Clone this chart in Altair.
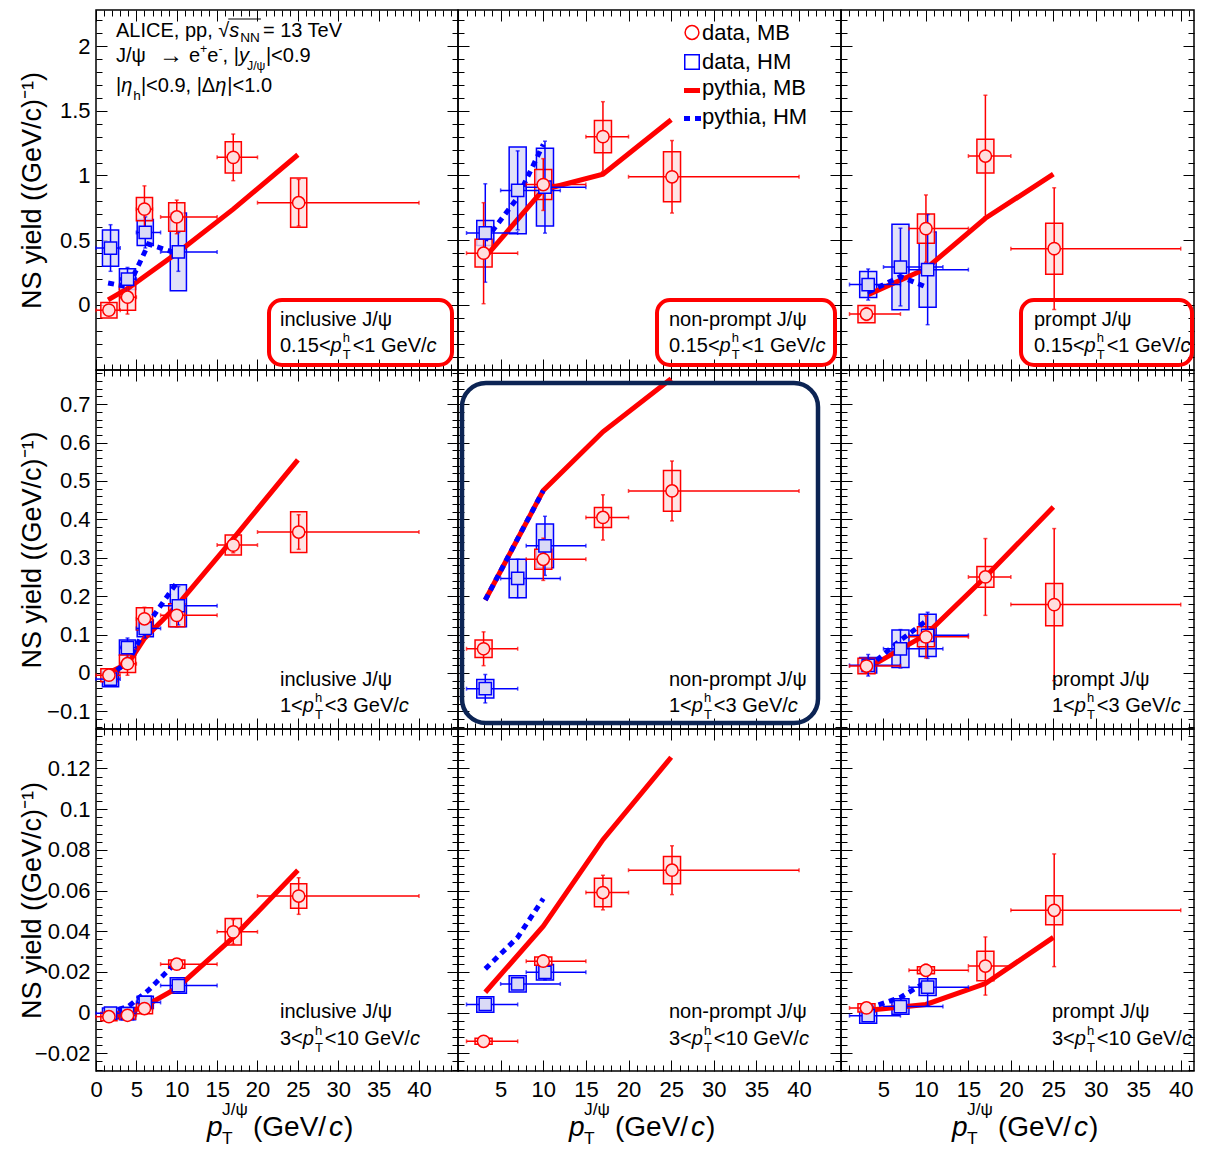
import altair as alt
import pandas as pd

FONT = "Liberation Sans"
RED, BLUE = "#ff0000", "#0000ff"
RED_FILL, BLUE_FILL = "#ffdede", "#dadaf6"
NAVY = "#0c2454"

# ---------------- data ----------------
INCL_MB_X = [1.6, 3.9, 6.0, 10.0, 17.0, 25.1]
INCL_MB_XLO = [0, 3, 5, 8, 15, 20]
INCL_MB_XHI = [3, 5, 7, 15, 20, 40]
INCL_HM_X = [1.8, 3.9, 6.1, 10.2]
INCL_HM_XLO = [0, 3, 5, 8]
INCL_HM_XHI = [3, 5, 8, 15]
SEP_MB_X = [3.0, 10.0, 17.0, 25.1]
SEP_MB_XLO = [1, 8, 15, 20]
SEP_MB_XHI = [7, 15, 20, 40]
SEP_HM_X = [3.2, 7.0, 10.2]
SEP_HM_XLO = [1, 5, 8]
SEP_HM_XHI = [7, 12, 15]
INCL_PY_MB_X = [1.5, 4, 6, 10, 17, 25]
INCL_PY_HM_X = [1.5, 4, 6.5, 10]
SEP_PY_MB_X = [3.2, 10, 17, 25]
SEP_PY_HM_X = [3.2, 7, 10]

# inclusive, 0.15<pTh<1
IL_MB_Y = [-0.04, 0.06, 0.74, 0.68, 1.14, 0.79]
IL_MB_STAT = [0.04, 0.13, 0.18, 0.13, 0.18, 0.18]
IL_MB_SYS = [0.06, 0.10, 0.09, 0.11, 0.12, 0.19]
IL_HM_Y = [0.44, 0.20, 0.56, 0.41]
IL_HM_STAT = [0.18, 0.09, 0.12, 0.15]
IL_HM_SYS = [0.14, 0.08, 0.10, 0.30]
IL_PY_MB = [0.04, 0.13, 0.22, 0.40, 0.74, 1.16]
IL_PY_HM = [0.17, 0.14, 0.47, 0.40]
# inclusive, 1<pTh<3
IM_MB_Y = [-0.006, 0.024, 0.141, 0.150, 0.333, 0.367]
IM_MB_STAT = [0.012, 0.03, 0.03, 0.03, 0.02, 0.045]
IM_MB_SYS = [0.017, 0.023, 0.029, 0.03, 0.026, 0.053]
IM_HM_Y = [-0.016, 0.066, 0.116, 0.175]
IM_HM_STAT = [0.015, 0.025, 0.025, 0.05]
IM_HM_SYS = [0.02, 0.02, 0.022, 0.055]
IM_PY_MB = [0.0, 0.025, 0.09, 0.175, 0.35, 0.555]
IM_PY_HM = [-0.01, 0.03, 0.13, 0.235]
# inclusive, 3<pTh<10
IH_MB_Y = [-0.002, -0.0013, 0.002, 0.0238, 0.0397, 0.0573]
IH_MB_STAT = [0.002, 0.002, 0.002, 0.002, 0.006, 0.009]
IH_MB_SYS = [0.002, 0.002, 0.0025, 0.002, 0.0065, 0.006]
IH_HM_Y = [-0.0003, -0.0005, 0.005, 0.0133]
IH_HM_STAT = [0.002, 0.002, 0.002, 0.003]
IH_HM_SYS = [0.0026, 0.003, 0.003, 0.0038]
IH_PY_MB = [-0.001, 0.0, 0.003, 0.012, 0.037, 0.070]
IH_PY_HM = [0.0, 0.003, 0.011, 0.025]
# non-prompt
NL_MB_Y = [0.40, 0.93, 1.30, 0.99]
NL_MB_STAT = [0.39, 0.20, 0.27, 0.28]
NL_MB_SYS = [0.107, 0.116, 0.125, 0.193]
NL_HM_Y = [0.556, 0.885, 0.91]
NL_HM_STAT = [0.38, 0.305, 0.355]
NL_HM_SYS = [0.097, 0.335, 0.30]
NL_PY_MB = [0.37, 0.89, 1.01, 1.43]
NL_PY_HM = [0.50, 0.83, 1.24]
NM_MB_Y = [0.063, 0.296, 0.405, 0.474]
NM_MB_STAT = [0.044, 0.055, 0.059, 0.078]
NM_MB_SYS = [0.023, 0.026, 0.026, 0.053]
NM_HM_Y = [-0.041, 0.246, 0.331]
NM_HM_STAT = [0.037, 0.05, 0.077]
NM_HM_SYS = [0.024, 0.05, 0.057]
NM_PY_MB = [0.19, 0.475, 0.628, 0.766]
NM_PY_HM = [0.19, 0.35, 0.475]
NH_MB_Y = [-0.0141, 0.0253, 0.059, 0.070]
NH_MB_STAT = [0.0015, 0.003, 0.0085, 0.012]
NH_MB_SYS = [0.0015, 0.002, 0.007, 0.0067]
NH_HM_Y = [0.004, 0.0141, 0.0198]
NH_HM_STAT = [0.002, 0.002, 0.0037]
NH_HM_SYS = [0.0038, 0.004, 0.0038]
NH_PY_MB = [0.010, 0.0425, 0.085, 0.1255]
NH_PY_HM = [0.0215, 0.037, 0.056]
# prompt
PL_MB_Y = [-0.07, 0.59, 1.15, 0.435]
PL_MB_STAT = [0.05, 0.26, 0.47, 0.47]
PL_MB_SYS = [0.067, 0.113, 0.13, 0.197]
PL_HM_Y = [0.158, 0.293, 0.273]
PL_HM_STAT = [0.12, 0.30, 0.425]
PL_HM_SYS = [0.10, 0.33, 0.29]
PL_PY_MB = [0.08, 0.28, 0.67, 1.01]
PL_PY_HM = [0.10, 0.22, 0.14]
PM_MB_Y = [0.018, 0.094, 0.25, 0.178]
PM_MB_STAT = [0.015, 0.055, 0.10, 0.198]
PM_MB_SYS = [0.02, 0.026, 0.027, 0.055]
PM_HM_Y = [0.02, 0.063, 0.098]
PM_HM_STAT = [0.028, 0.05, 0.06]
PM_HM_SYS = [0.02, 0.049, 0.055]
PM_PY_MB = [0.013, 0.10, 0.25, 0.432]
PM_PY_HM = [0.015, 0.085, 0.135]
PH_MB_Y = [0.0023, 0.0208, 0.0229, 0.0503]
PH_MB_STAT = [0.002, 0.003, 0.0143, 0.0277]
PH_MB_SYS = [0.002, 0.0017, 0.0072, 0.0071]
PH_HM_Y = [-0.0015, 0.003, 0.0125]
PH_HM_STAT = [0.002, 0.002, 0.009]
PH_HM_SYS = [0.0037, 0.0038, 0.0041]
PH_PY_MB = [0.0012, 0.004, 0.0143, 0.037]
PH_PY_HM = [0.002, 0.0075, 0.015]

SPECIES = ["inclusive J/\u03c8", "non-prompt J/\u03c8", "prompt J/\u03c8"]
PTH_LO = ["0.15", "1", "3"]
PTH_HI = ["1", "3", "10"]
Y_TITLE = "NS yield ((GeV/c)\u207b\u00b9)"

PANELS = {
    (0, 0): (IL_MB_Y, IL_MB_STAT, IL_MB_SYS, IL_HM_Y, IL_HM_STAT, IL_HM_SYS, IL_PY_MB, IL_PY_HM),
    (1, 0): (IM_MB_Y, IM_MB_STAT, IM_MB_SYS, IM_HM_Y, IM_HM_STAT, IM_HM_SYS, IM_PY_MB, IM_PY_HM),
    (2, 0): (IH_MB_Y, IH_MB_STAT, IH_MB_SYS, IH_HM_Y, IH_HM_STAT, IH_HM_SYS, IH_PY_MB, IH_PY_HM),
    (0, 1): (NL_MB_Y, NL_MB_STAT, NL_MB_SYS, NL_HM_Y, NL_HM_STAT, NL_HM_SYS, NL_PY_MB, NL_PY_HM),
    (1, 1): (NM_MB_Y, NM_MB_STAT, NM_MB_SYS, NM_HM_Y, NM_HM_STAT, NM_HM_SYS, NM_PY_MB, NM_PY_HM),
    (2, 1): (NH_MB_Y, NH_MB_STAT, NH_MB_SYS, NH_HM_Y, NH_HM_STAT, NH_HM_SYS, NH_PY_MB, NH_PY_HM),
    (0, 2): (PL_MB_Y, PL_MB_STAT, PL_MB_SYS, PL_HM_Y, PL_HM_STAT, PL_HM_SYS, PL_PY_MB, PL_PY_HM),
    (1, 2): (PM_MB_Y, PM_MB_STAT, PM_MB_SYS, PM_HM_Y, PM_HM_STAT, PM_HM_SYS, PM_PY_MB, PM_PY_HM),
    (2, 2): (PH_MB_Y, PH_MB_STAT, PH_MB_SYS, PH_HM_Y, PH_HM_STAT, PH_HM_SYS, PH_PY_MB, PH_PY_HM),
}

# ---------------- layout / style ----------------
COL_W = [362, 383, 353]
ROW_H = [360, 359, 342]
XDOM = [(0, 44.83), (0, 44.92), (0, 41.56)]
YDOM = [(-0.502, 2.278), (-0.146, 0.789), (-0.0287, 0.1394)]
Y_MAJOR = [[0, 0.5, 1, 1.5, 2],
           [-0.1, 0, 0.1, 0.2, 0.3, 0.4, 0.5, 0.6, 0.7],
           [-0.02, 0, 0.02, 0.04, 0.06, 0.08, 0.1, 0.12]]
Y_TICK_MAJOR = [[-0.5, 0, 0.5, 1, 1.5, 2], Y_MAJOR[1], Y_MAJOR[2]]
Y_MINOR_STEP = [0.1, 0.02, 0.004]
X_MAJOR = [0, 5, 10, 15, 20, 25, 30, 35, 40]
BOX_HW = 1.0
MAJ, MIN = 11, 6

AW = {' ': .278, '(': .333, ')': .333, '+': .584, ',': .278, '-': .333, '.': .278, '/': .278,
      '<': .584, '=': .584, '|': .26, 'A': .667, 'B': .667, 'C': .722, 'E': .667, 'G': .778,
      'H': .722, 'I': .278, 'J': .5, 'L': .556, 'M': .833, 'N': .722, 'T': .611, 'V': .667,
      'a': .556, 'c': .5, 'd': .556, 'e': .556, 'h': .556, 'i': .222, 'l': .222, 'm': .833,
      'n': .556, 'o': .556, 'p': .556, 'r': .333, 's': .5, 't': .278, 'u': .556, 'v': .5,
      'y': .5, '\u03c8': .75, '\u03b7': .556, '\u0394': .668, '\u2192': .84, '\u221a': .55}


def tw(s, fs):
    return sum(AW.get(ch, 0.556) for ch in s) * fs


def rich(segs, x0, yb, fs, small=0.68, dsub=0.3, dsup=-0.45):
    """Lay out a line of text pieces (normal, italic, sub/superscripts)."""
    out, x = [], x0
    for seg in segs:
        kind, t = seg[0], seg[1]
        if kind == "at":
            x = x0 + t
        elif kind == "shift":
            x += t
        elif kind == "big":
            size, dy = seg[2], seg[3]
            out.append(("n", t, x, yb + dy, size))
            x += tw(t, size)
        elif kind in ("n", "i"):
            out.append((kind, t, x, yb, fs))
            x += tw(t, fs) + (1.0 if kind == "i" else 0)
        elif kind in ("sub", "sup"):
            s = fs * small
            out.append(("n", t, x, yb + (dsub if kind == "sub" else dsup) * fs, s))
            x += tw(t, s)
        else:
            sb, sp = t
            s = fs * small
            out.append(("n", sb, x, yb + dsub * fs, s))
            out.append(("n", sp, x, yb + dsup * fs, s))
            x += max(tw(sb, s), tw(sp, s)) + 2
    return out, x


def minor_vals(lo, hi, step, majors):
    k0 = int(round(lo / step)) - 1
    k1 = int(round(hi / step)) + 1
    vals = []
    for k in range(k0, k1 + 1):
        v = round(k * step, 6)
        if lo <= v <= hi and all(abs(v - m) > 1e-9 for m in majors):
            vals.append(v)
    return vals


ONE = pd.DataFrame({"a": [0]})


def text_layers(pieces, clip=False):
    layers = []
    for kind, style in (("n", "normal"), ("i", "italic")):
        rows = [(t, x, y, s) for (k, t, x, y, s) in pieces if k == kind]
        if not rows:
            continue
        df = pd.DataFrame(rows, columns=["t", "px", "py", "fs"])
        layers.append(alt.Chart(df).mark_text(
            align="left", baseline="alphabetic", font=FONT, fontStyle=style, color="black", clip=clip
        ).encode(
            x=alt.X("px:Q", scale=None, axis=None),
            y=alt.Y("py:Q", scale=None, axis=None),
            text="t:N",
            size=alt.Size("fs:Q", scale=None, legend=None),
        ))
    return layers


def tick_axis(orient, offset, values, size):
    return alt.Axis(orient=orient, offset=offset, values=values, tickSize=size, tickWidth=1,
                    tickColor="black", labels=False, domain=False, grid=False, title=None)


def make_panel(r, c):
    mb_y, mb_st, mb_sy, hm_y, hm_st, hm_sy, py_mb, py_hm = PANELS[(r, c)]
    w, h = COL_W[c], ROW_H[r]
    xd, yd = XDOM[c], YDOM[r]
    xs = alt.Scale(domain=list(xd), nice=False, zero=False)
    ys = alt.Scale(domain=list(yd), nice=False, zero=False)
    incl = c == 0
    if incl:
        mbx, mblo, mbhi = INCL_MB_X, INCL_MB_XLO, INCL_MB_XHI
        hmx, hmlo, hmhi = INCL_HM_X, INCL_HM_XLO, INCL_HM_XHI
        pmx, phx = INCL_PY_MB_X, INCL_PY_HM_X
    else:
        mbx, mblo, mbhi = SEP_MB_X, SEP_MB_XLO, SEP_MB_XHI
        hmx, hmlo, hmhi = SEP_HM_X, SEP_HM_XLO, SEP_HM_XHI
        pmx, phx = SEP_PY_MB_X, SEP_PY_HM_X

    def frame(x, lo, hi, y, st, sy):
        d = pd.DataFrame({"x": x, "lo": lo, "hi": hi, "y": y, "st": st, "sy": sy})
        d["bx0"] = d["x"] - BOX_HW
        d["bx1"] = d["x"] + BOX_HW
        d["by0"] = d["y"] - d["sy"]
        d["by1"] = d["y"] + d["sy"]
        d["ey0"] = d["y"] - d["st"]
        d["ey1"] = d["y"] + d["st"]
        return d

    mb = frame(mbx, mblo, mbhi, mb_y, mb_st, mb_sy)
    hm = frame(hmx, hmlo, hmhi, hm_y, hm_st, hm_sy)
    pm = pd.DataFrame({"x": pmx, "y": py_mb})
    ph = pd.DataFrame({"x": phx, "y": py_hm})

    def X(f):
        return alt.X(f, type="quantitative", scale=xs, axis=None)

    def Y(f):
        return alt.Y(f, type="quantitative", scale=ys, axis=None)

    L = []
    for d, fill, col in ((hm, BLUE_FILL, BLUE), (mb, RED_FILL, RED)):
        L.append(alt.Chart(d).mark_rect(fill=fill, fillOpacity=0.8, stroke=col, strokeWidth=1.5).encode(
            x=X("bx0"), x2=alt.X2("bx1"), y=Y("by0"), y2=alt.Y2("by1")))
    L.append(alt.Chart(pm).mark_line(color=RED, strokeWidth=5, strokeCap="butt").encode(x=X("x"), y=Y("y")))
    L.append(alt.Chart(ph).mark_line(color=BLUE, strokeWidth=5, strokeDash=[6, 5], strokeCap="butt").encode(
        x=X("x"), y=Y("y")))
    for d, col in ((hm, BLUE), (mb, RED)):
        L.append(alt.Chart(d).mark_rule(color=col, strokeWidth=1.5).encode(x=X("x"), y=Y("ey0"), y2=alt.Y2("ey1")))
        L.append(alt.Chart(d).mark_rule(color=col, strokeWidth=1.5).encode(x=X("lo"), x2=alt.X2("hi"), y=Y("y")))
        for f in ("ey0", "ey1"):
            L.append(alt.Chart(d).mark_tick(orient="horizontal", size=4, thickness=1.5, color=col).encode(
                x=X("x"), y=Y(f)))
        for f in ("lo", "hi"):
            L.append(alt.Chart(d).mark_tick(orient="vertical", size=4, thickness=1.5, color=col).encode(
                x=X(f), y=Y("y")))
    L.append(alt.Chart(hm).mark_point(shape="square", size=150, filled=True, fill=BLUE_FILL, stroke=BLUE,
                                      strokeWidth=1.5, opacity=1).encode(x=X("x"), y=Y("y")))
    L.append(alt.Chart(mb).mark_point(shape="circle", size=150, filled=True, fill=RED_FILL, stroke=RED,
                                      strokeWidth=1.5, opacity=1).encode(x=X("x"), y=Y("y")))

    # --- texts ---
    labels = []
    pieces = []
    lab_x = 184 if c == 0 else (193 if (r, c) == (0, 2) else 211)
    off1, off2 = [(44.5, 18), (43.5, 17.5), (53, 26.5)][r]
    p1, _ = rich([("n", SPECIES[c])], lab_x, h - off1, 20)
    p2, _ = rich([("n", PTH_LO[r] + "<"), ("i", "p"), ("subsup", ("T", "h")), ("n", "<" + PTH_HI[r] + " GeV/"),
                  ("i", "c")], lab_x, h - off2, 20, small=0.65, dsub=0.37, dsup=-0.5)
    labels += p1 + p2
    extra = []
    if (r, c) == (0, 0):
        a, xa = rich([("n", "ALICE, pp, ")], 20, 27, 20)
        b, xb = rich([("n", "\u221a")], xa, 27, 20)
        cc, xc = rich([("i", "s"), ("sub", "NN")], xb, 27, 20, dsub=0.25)
        d2, _ = rich([("n", " = 13 TeV")], xc + 3, 27, 20)
        pieces += a + b + cc + d2
        extra.append(alt.Chart(ONE).mark_rule(color="black", strokeWidth=1.2).encode(
            x=alt.value(xb - 1), x2=alt.value(xc + 1), y=alt.value(9)))
        l2, _ = rich([("n", "J/\u03c8"), ("at", 43), ("big", "\u2192", 24, 1), ("at", 73), ("n", "e"),
                      ("sup", "+"), ("n", "e"), ("sup", "-"), ("n", ", |"), ("i", "y"), ("shift", -3),
                      ("sub", "J/\u03c8"), ("n", "|<0.9")], 20, 52, 20, small=0.62, dsub=0.4, dsup=-0.45)
        l3, _ = rich([("n", "|"), ("i", "\u03b7"), ("sub", "h"), ("n", "|<0.9, |\u0394"), ("i", "\u03b7"),
                      ("n", "|<1.0")], 20, 82, 20, dsub=0.4)
        pieces += l2 + l3
    if (r, c) == (0, 1):
        for txt, yb in (("data, MB", 29.5), ("data, HM", 59), ("pythia, MB", 85), ("pythia, HM", 114)):
            pieces += rich([("n", txt)], 244, yb, 22)[0]
        extra.append(alt.Chart(ONE).mark_point(shape="circle", size=190, filled=False, color=RED,
                                               strokeWidth=1.5, opacity=1).encode(
            x=alt.value(234), y=alt.value(22.5)))
        extra.append(alt.Chart(ONE).mark_point(shape="square", size=210, filled=False, color=BLUE,
                                               strokeWidth=1.5, opacity=1).encode(
            x=alt.value(234), y=alt.value(52)))
        extra.append(alt.Chart(ONE).mark_rule(color=RED, strokeWidth=5).encode(
            x=alt.value(226), x2=alt.value(242), y=alt.value(80.5)))
        extra.append(alt.Chart(ONE).mark_rule(color=BLUE, strokeWidth=5, strokeDash=[6, 5]).encode(
            x=alt.value(226), x2=alt.value(244), y=alt.value(108.5)))
    if r == 2:
        pt, _ = rich([("i", "p"), ("at", 15), ("subsup", ("T", "J/\u03c8")), ("at", 46), ("n", " (GeV/"),
                      ("shift", -5), ("i", "c"), ("n", ")")], 111, h + 65, 28, small=0.62, dsub=0.29, dsup=-0.75)
        pieces += pt
    L += text_layers(labels, clip=(c == 2))
    L += text_layers(pieces)
    L += extra

    # annotation boxes
    if r == 0:
        bx = [(173, 356), (199, 377), (180, w - 2)][c]
        L.append(alt.Chart(ONE).mark_rect(filled=False, color=RED, strokeWidth=4, cornerRadius=13).encode(
            x=alt.value(bx[0]), x2=alt.value(bx[1]), y=alt.value(290), y2=alt.value(355)))
    if (r, c) == (1, 1):
        L.append(alt.Chart(ONE).mark_rect(filled=False, color=NAVY, strokeWidth=4.5, cornerRadius=24).encode(
            x=alt.value(4), x2=alt.value(360), y=alt.value(13), y2=alt.value(353)))

    # --- axes (inward ticks on all four sides) ---
    xmaj = [v for v in X_MAJOR if xd[0] <= v <= xd[1]]
    xmin = minor_vals(xd[0], xd[1], 1, xmaj)
    ymaj = Y_TICK_MAJOR[r]
    ymin = minor_vals(yd[0], yd[1], Y_MINOR_STEP[r], ymaj)
    cx = (xd[0] + xd[1]) / 2
    cy = (yd[0] + yd[1]) / 2
    helper = pd.DataFrame({"x": [cx], "y": [cy]})

    def hl(xa, ya):
        return alt.Chart(helper).mark_point(size=0, opacity=0).encode(
            x=alt.X("x:Q", scale=xs, axis=xa), y=alt.Y("y:Q", scale=ys, axis=ya))

    L.append(hl(tick_axis("top", -h, xmaj, MAJ), tick_axis("right", -w, ymaj, MAJ)))
    L.append(hl(tick_axis("top", -h, xmin, MIN), tick_axis("right", -w, ymin, MIN)))
    L.append(hl(tick_axis("bottom", -h, xmaj, MAJ), tick_axis("left", -w, ymaj, MAJ)))
    L.append(hl(tick_axis("bottom", -h, xmin, MIN), tick_axis("left", -w, ymin, MIN)))
    xl = None
    yl = None
    if r == 2:
        xl = alt.Axis(orient="bottom", values=[v for v in xmaj if (c == 0 or v > 0)], ticks=False, tickSize=0,
                      domain=False, grid=False, labelFont=FONT, labelFontSize=22, labelColor="black",
                      labelPadding=8, labelFlush=False, labelOverlap=False, format="~g", title=None)
    if c == 0:
        yl = alt.Axis(orient="left", values=Y_MAJOR[r], ticks=False, tickSize=0, domain=False, grid=False,
                      labelFont=FONT, labelFontSize=22, labelColor="black", labelPadding=6,
                      labelFlush=False, labelOverlap=False, format="~g",
                      title=Y_TITLE, titleFont=FONT, titleFontSize=27, titleFontWeight="normal",
                      titleColor="black", titleAngle=270, titleX=-64, titleY=h / 2,
                      titleAlign="center", titleBaseline="middle")
    if xl is not None or yl is not None:
        L.append(hl(xl, yl))

    return alt.layer(*L).resolve_axis(x="independent", y="independent").properties(width=w, height=h)


panels = [make_panel(r, c) for r in range(3) for c in range(3)]
chart = alt.concat(*panels, columns=3, spacing=0, bounds="flush", align="each").properties(
    padding={"left": 9, "top": 0, "right": 0, "bottom": 0}
).configure_view(stroke="black", strokeWidth=1.5)

chart.save("out.html", embed_options={"renderer": "svg", "actions": False})
